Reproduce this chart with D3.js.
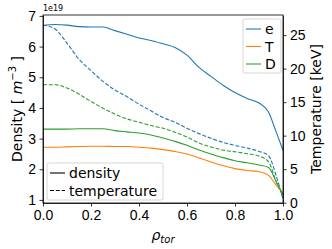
<!DOCTYPE html>
<html>
<head>
<meta charset="utf-8">
<script src="https://cdn.jsdelivr.net/npm/d3@7"></script>
<style>
  body { margin: 0; background: #fff; }
  svg { font-family: "DejaVu Sans", sans-serif; }
  .axis path, .axis line { stroke: #000; stroke-width: 0.8; }
  .axis text { font-size: 14px; fill: #000; }
</style>
</head>
<body>
<svg width="332" height="249"></svg>
<script>
// normalised toroidal flux coordinate
const rho = [0, 0.05, 0.1, 0.15, 0.2, 0.25, 0.3, 0.35, 0.4, 0.45, 0.5, 0.55,
  0.6, 0.65, 0.7, 0.75, 0.8, 0.85, 0.9, 0.94, 0.97, 1.0];

// densities in 1e19 m^-3
const densE = [6.69, 6.72, 6.70, 6.65, 6.64, 6.64, 6.52, 6.40, 6.28, 6.20, 6.09, 5.97,
  5.72, 5.32, 5.03, 4.74, 4.50, 4.31, 4.16, 3.86, 3.25, 2.62];
const densT = [2.72, 2.72, 2.73, 2.74, 2.75, 2.75, 2.74, 2.74, 2.72, 2.69, 2.64, 2.58,
  2.50, 2.37, 2.24, 2.12, 2.02, 1.96, 1.92, 1.80, 1.50, 1.23];
const densD = [3.31, 3.31, 3.31, 3.32, 3.32, 3.32, 3.26, 3.22, 3.18, 3.12, 3.02, 2.91,
  2.78, 2.63, 2.50, 2.38, 2.28, 2.21, 2.14, 2.06, 1.62, 1.16];

// temperatures in keV
const tempE = [26.5, 25.9, 23.8, 21.4, 19.7, 18.1, 16.8, 15.8, 14.7, 13.7, 12.7, 12.0,
  11.1, 10.3, 9.6, 9.0, 8.55, 8.15, 7.65, 7.0, 4.2, 0.5];
const tempD = [17.6, 17.6, 17.1, 16.2, 15.1, 14.1, 13.2, 12.5, 12.0, 11.5, 11.1, 10.5,
  9.8, 8.9, 8.3, 7.85, 7.6, 7.3, 6.95, 6.1, 3.3, 0.9];
// (no temperature curve drawn for T)

const species = ["e", "T", "D"];
const densTicks = [1, 2, 3, 4, 5, 6, 7];
const tempTicks = [0, 5, 10, 15, 20, 25];
const rhoTicks = [0, 0.2, 0.4, 0.6, 0.8, 1.0];

const colour = d3.scaleOrdinal()
  .domain(species)
  .range(["#1f77b4", "#ff7f0e", "#2ca02c"]);

let margin = { top: 15, right: 49, bottom: 46, left: 43 },
  svg = d3.select("svg"),
  width = +svg.attr("width") - margin.left - margin.right,
  height = +svg.attr("height") - margin.top - margin.bottom;

let g = svg.append("g")
  .attr("transform", "translate(" + margin.left + "," + margin.top + ")");

let x = d3.scaleLinear().domain([0, 1]).range([0, width]),
  yDens = d3.scaleLinear().domain([0.9, 7.03]).range([height, 0]),
  yTemp = d3.scaleLinear().domain([-0.05, 28]).range([height, 0]);

let densLine = d3.line().curve(d3.curveMonotoneX)
  .x(d => x(d.r)).y(d => yDens(d.v));
let tempLine = d3.line().curve(d3.curveMonotoneX)
  .x(d => x(d.r)).y(d => yTemp(d.v));

const pair = arr => arr.map((v, i) => ({ r: rho[i], v: v }));

let profiles = [
  { name: "e", kind: "temp", values: pair(tempE) },
  { name: "D", kind: "temp", values: pair(tempD) },
  { name: "e", kind: "dens", values: pair(densE) },
  { name: "T", kind: "dens", values: pair(densT) },
  { name: "D", kind: "dens", values: pair(densD) }
];

g.selectAll(".profile")
  .data(profiles)
  .enter()
  .append("path")
  .attr("class", "profile")
  .attr("fill", "none")
  .attr("stroke", d => colour(d.name))
  .attr("stroke-width", 1.1)
  .attr("stroke-dasharray", d => d.kind === "temp" ? "4,1.8" : null)
  .attr("d", d => d.kind === "temp" ? tempLine(d.values) : densLine(d.values));

// axes
g.append("g")
  .attr("class", "axis")
  .attr("transform", "translate(0," + height + ")")
  .call(d3.axisBottom(x).tickValues(rhoTicks).tickFormat(d3.format(".1f"))
    .tickSize(3.5).tickPadding(3.5).tickSizeOuter(0));

g.append("g")
  .attr("class", "axis")
  .call(d3.axisLeft(yDens).tickValues(densTicks).tickFormat(d3.format("d"))
    .tickSize(3.5).tickPadding(3.5).tickSizeOuter(0));

g.append("g")
  .attr("class", "axis")
  .attr("transform", "translate(" + width + ",0)")
  .call(d3.axisRight(yTemp).tickValues(tempTicks).tickFormat(d3.format("d"))
    .tickSize(3.5).tickPadding(3.5).tickSizeOuter(0));

g.append("rect")
  .attr("width", width)
  .attr("height", height)
  .attr("fill", "none")
  .attr("stroke", "#000")
  .attr("stroke-width", 0.8);

// offset text
g.append("text")
  .attr("x", 0)
  .attr("y", -4)
  .style("font-size", "8px")
  .text("1e19");

// axis labels
let yl = svg.append("text")
  .attr("transform", "translate(17," + (margin.top + height / 2) + ") rotate(-90)")
  .attr("text-anchor", "middle")
  .attr("dominant-baseline", "central")
  .style("font-size", "14px");
yl.append("tspan").text("Density [ ");
yl.append("tspan").style("font-style", "italic").text("m");
yl.append("tspan").attr("dy", -5).style("font-size", "10px").text("\u22123");
yl.append("tspan").attr("dy", 5).text(" ]");

svg.append("text")
  .attr("transform", "translate(316," + (margin.top + height / 2) + ") rotate(-90)")
  .attr("text-anchor", "middle")
  .attr("dominant-baseline", "central")
  .style("font-size", "14px")
  .text("Temperature [keV]");

let xl = svg.append("text")
  .attr("x", margin.left + width / 2)
  .attr("y", 240)
  .attr("text-anchor", "middle")
  .style("font-size", "14px");
xl.append("tspan").style("font-style", "italic").text("\u03c1");
xl.append("tspan").attr("dy", 3).style("font-size", "10px").style("font-style", "italic").text("tor");

// species legend
let leg1 = g.append("g").attr("transform", "translate(" + (width - 40) + ",4)");
leg1.append("rect")
  .attr("width", 38).attr("height", 54).attr("rx", 2)
  .attr("fill", "#fff").attr("fill-opacity", 0.8)
  .attr("stroke", "#ccc").attr("stroke-width", 0.8);
let items1 = leg1.selectAll(".item")
  .data(species)
  .enter()
  .append("g")
  .attr("transform", (d, i) => "translate(0," + (10 + i * 17.5) + ")");
items1.append("line")
  .attr("x1", 3).attr("x2", 18)
  .attr("stroke", d => colour(d)).attr("stroke-width", 1.1);
items1.append("text")
  .attr("x", 22)
  .attr("dominant-baseline", "central")
  .style("font-size", "14px")
  .text(d => d);

// line style legend
const styleNames = ["density", "temperature"];
let leg2 = g.append("g").attr("transform", "translate(4," + (height - 40) + ")");
leg2.append("rect")
  .attr("width", 116).attr("height", 37).attr("rx", 2)
  .attr("fill", "#fff").attr("fill-opacity", 0.8)
  .attr("stroke", "#ccc").attr("stroke-width", 0.8);
let items2 = leg2.selectAll(".item")
  .data(styleNames)
  .enter()
  .append("g")
  .attr("transform", (d, i) => "translate(0," + (10 + i * 17.5) + ")");
items2.append("line")
  .attr("x1", 3).attr("x2", 18)
  .attr("stroke", "#000").attr("stroke-width", 1.1)
  .attr("stroke-dasharray", (d, i) => i ? "4,1.8" : null);
items2.append("text")
  .attr("x", 22)
  .attr("dominant-baseline", "central")
  .style("font-size", "14px")
  .text(d => d);
</script>
</body>
</html>
